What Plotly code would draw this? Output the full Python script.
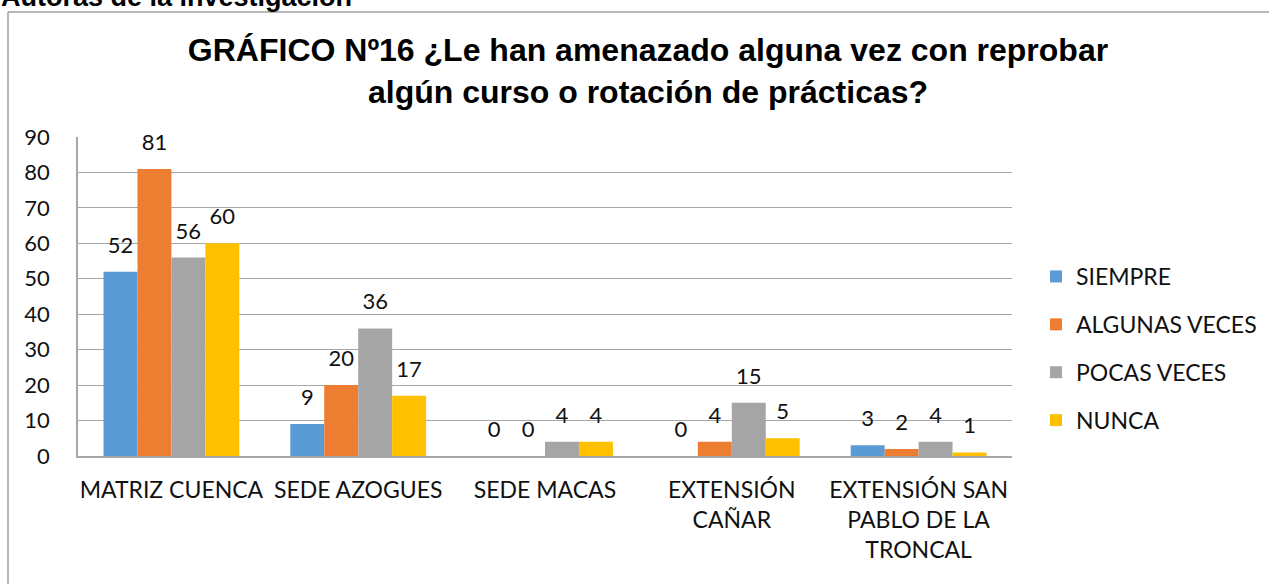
import plotly.graph_objects as go

categories = ["MATRIZ CUENCA", "SEDE AZOGUES", "SEDE MACAS", "EXTENSIÓN<br>CAÑAR",
              "EXTENSIÓN SAN<br>PABLO DE LA<br>TRONCAL"]
series_names = ["SIEMPRE", "ALGUNAS VECES", "POCAS VECES", "NUNCA"]
siempre = [52, 9, 0, 0, 3]
algunas_veces = [81, 20, 0, 4, 2]
pocas_veces = [56, 36, 4, 15, 4]
nunca = [60, 17, 4, 5, 1]
colors = ["#5B9BD5", "#ED7D31", "#A5A5A5", "#FFC000"]
y_ticks = list(range(0, 91, 10))

title_text = ("<b>GRÁFICO Nº16 ¿Le han amenazado alguna vez con reprobar<br>"
              "algún curso o rotación de prácticas?</b>")
source_text = "<b>Autoras de la investigación</b>"

W, H = 1269, 584
L, R, T, B = 78, 257, 137, 128
pw, ph = W - L - R, H - T - B

def px_x(p):
    return (p - L) / pw

def px_y(p):
    return (H - B - p) / ph

LABEL_FONT = "Lato, Carlito, Calibri, sans-serif"
TXT = "#111111"

fig = go.Figure()
all_series = [siempre, algunas_veces, pocas_veces, nunca]
for name, vals, col in zip(series_names, all_series, colors):
    fig.add_trace(go.Bar(
        x=categories, y=vals, name=name, marker=dict(color=col, line=dict(width=0)),
        legendgroup=name, hoverinfo="skip",
    ))
for name, vals, col in zip(series_names, all_series, colors):
    fig.add_trace(go.Scatter(
        x=categories, y=vals, mode="markers+text", text=[str(v) for v in vals],
        textposition="top center", marker=dict(size=20, opacity=0, color=col),
        textfont=dict(family=LABEL_FONT, size=22, color=TXT),
        showlegend=False, hoverinfo="skip", cliponaxis=False,
    ))

fig.update_layout(
    width=W, height=H,
    margin=dict(l=L, r=R, t=T, b=B, pad=0, autoexpand=False),
    paper_bgcolor="white", plot_bgcolor="white",
    barmode="group", bargap=0.273, bargroupgap=0,
    scattermode="group", scattergap=0.273,
    font=dict(family=LABEL_FONT, size=22, color=TXT),
    title=dict(text=title_text, xref="container", x=648 / W, xanchor="center",
               yref="container", y=1 - 61 / H, yanchor="top",
               font=dict(family="Liberation Sans, Arial, sans-serif", size=32, color="#000000")),
    legend=dict(x=px_x(1036), y=px_y(255), xanchor="left", yanchor="top",
                font=dict(family=LABEL_FONT, size=23, color=TXT),
                tracegroupgap=15, itemwidth=30, bgcolor="rgba(0,0,0,0)"),
    showlegend=True,
)
fig.update_xaxes(showgrid=False, showline=True, linecolor="#A6A6A6", linewidth=1.5,
                 ticks="outside", ticklen=13, tickcolor="rgba(0,0,0,0)",
                 tickfont=dict(family=LABEL_FONT, size=23, color=TXT))
fig.update_yaxes(range=[0, 90], tickvals=y_ticks, showgrid=True, gridcolor="#A6A6A6",
                 gridwidth=1.3, showline=True, linecolor="#A6A6A6", linewidth=1.5,
                 zeroline=False, ticks="outside", ticklen=22, tickcolor="rgba(0,0,0,0)",
                 tickfont=dict(family=LABEL_FONT, size=22, color=TXT))

# chart frame (left and top borders visible)
fig.add_shape(type="line", xref="paper", yref="paper", x0=px_x(8), x1=px_x(8),
              y0=px_y(12), y1=px_y(H + 5), line=dict(color="#A0A0A0", width=1.5))
fig.add_shape(type="line", xref="paper", yref="paper", x0=px_x(8), x1=px_x(W + 5),
              y0=px_y(12), y1=px_y(12), line=dict(color="#A0A0A0", width=1.5))

fig.add_annotation(text=source_text, xref="paper", yref="paper", x=px_x(-1), y=px_y(14),
                   xanchor="left", yanchor="bottom", showarrow=False,
                   font=dict(family="Liberation Sans, Arial, sans-serif", size=27, color="#000000"))

fig.write_html("out.html", config={"displayModeBar": False},
               post_script="document.body.style.margin='0';")
